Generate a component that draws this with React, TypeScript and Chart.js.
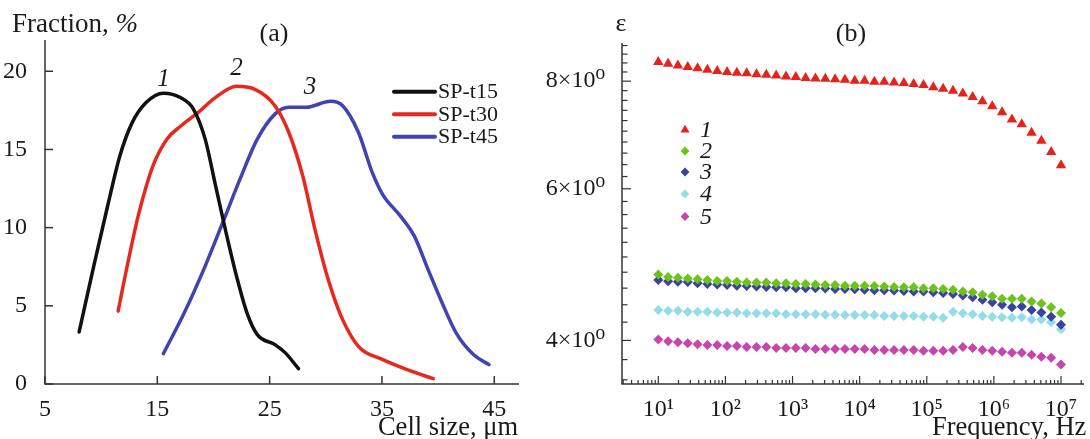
import React, { useEffect, useRef } from 'react';
import { Chart, registerables } from 'chart.js';
Chart.register(...registerables);

const SERIF = "'Liberation Serif', 'DejaVu Serif', serif";
const AXIS = '#333333';
const TEXT = '#1a1a1a';

// ---------- (a) cell size distribution ----------
const seriesNamesA = ['SP-t15', 'SP-t30', 'SP-t45'];
const curveNumbersA = ['1', '2', '3'];
const colorsA = ['#111111', '#e6281e', '#4242b0'];

const sizeT15 = [8.04, 9.34, 10.58, 11.67, 12.75, 14.0, 15.54, 17.1, 18.2, 19.26, 20.19, 21.12, 22.05, 22.98, 23.9, 25.47, 26.4, 27.57];
const fracT15 = [3.33, 7.54, 11.4, 14.6, 16.7, 18.0, 18.6, 18.3, 17.6, 15.66, 12.67, 9.68, 6.9, 4.55, 3.16, 2.52, 1.99, 0.98];

const sizeT30 = [11.51, 12.44, 13.37, 14.61, 15.85, 17.09, 18.64, 20.19, 22.05, 23.6, 25.47, 26.7, 27.95, 29.03, 30.12, 31.36, 32.9, 35.08, 37.25, 39.57];
const fracT30 = [4.66, 7.97, 10.96, 13.95, 15.66, 16.5, 17.37, 18.33, 19.04, 18.87, 17.8, 16.1, 13.3, 9.9, 6.9, 4.34, 2.41, 1.56, 0.92, 0.34];

const sizeT45 = [15.54, 17.4, 19.26, 20.81, 22.36, 23.9, 25.47, 26.7, 28.26, 30.43, 31.5, 32.9, 34.15, 35.08, 36.63, 37.87, 39.1, 40.35, 41.6, 43.14, 44.53];
const fracT45 = [1.94, 4.55, 7.54, 10.3, 13.1, 15.66, 17.26, 17.7, 17.7, 18.08, 17.8, 16.1, 13.5, 12.1, 10.75, 9.47, 7.33, 5.2, 3.27, 1.88, 1.24];

// positions of the italic curve numbers (data coordinates)
const curveLabelX = [15.55, 22.05, 28.6];
const curveLabelY = [19.46, 20.2, 18.98];

const cellTicks = [5, 15, 25, 35, 45];
const fracTicks = [0, 5, 10, 15, 20];

// ---------- (b) permittivity vs frequency ----------
const seriesNamesB = ['1', '2', '3', '4', '5'];
const colorsB = ['#e5221b', '#6cc41a', '#3b40a2', '#95dde6', '#c646ac'];
const stylesB = ['triangle', 'rectRot', 'rectRot', 'rectRot', 'rectRot'];

const freqHz = [10, 14.01, 19.62, 27.48, 38.49, 53.91, 75.51, 105.8, 148.2, 207.6, 290.7, 407.2, 570.4, 799.0, 1119, 1567, 2195, 3075, 4307, 6033, 8450, 11836, 16579, 23222, 32527, 45561, 63818, 89390, 125210, 175380, 245660, 344100, 481990, 675130, 945660, 1324600, 1855400, 2598900, 3640300, 5099000, 7142300, 10000000];

const eps1 = [8.42, 8.38, 8.34, 8.31, 8.28, 8.25, 8.22, 8.20, 8.18, 8.17, 8.15, 8.14, 8.12, 8.10, 8.09, 8.07, 8.06, 8.05, 8.04, 8.03, 8.01, 8.01, 7.99, 7.99, 7.97, 7.96, 7.94, 7.92, 7.87, 7.84, 7.80, 7.74, 7.67, 7.58, 7.48, 7.36, 7.22, 7.13, 6.97, 6.82, 6.62, 6.39];
const eps2 = [4.77, 4.74, 4.73, 4.72, 4.71, 4.70, 4.69, 4.69, 4.68, 4.67, 4.67, 4.67, 4.66, 4.66, 4.65, 4.65, 4.645, 4.64, 4.64, 4.63, 4.63, 4.63, 4.625, 4.62, 4.615, 4.61, 4.61, 4.60, 4.60, 4.59, 4.58, 4.56, 4.55, 4.52, 4.50, 4.47, 4.47, 4.47, 4.44, 4.415, 4.37, 4.305];
const eps3 = [4.70, 4.685, 4.68, 4.675, 4.66, 4.65, 4.645, 4.64, 4.63, 4.625, 4.62, 4.615, 4.61, 4.61, 4.60, 4.60, 4.60, 4.595, 4.59, 4.59, 4.585, 4.58, 4.575, 4.575, 4.57, 4.565, 4.56, 4.56, 4.55, 4.54, 4.53, 4.51, 4.49, 4.46, 4.43, 4.40, 4.37, 4.38, 4.34, 4.31, 4.26, 4.17];
const eps4 = [4.34, 4.33, 4.33, 4.32, 4.32, 4.32, 4.31, 4.31, 4.31, 4.30, 4.30, 4.30, 4.30, 4.29, 4.29, 4.29, 4.29, 4.285, 4.285, 4.28, 4.28, 4.28, 4.28, 4.27, 4.27, 4.27, 4.27, 4.26, 4.26, 4.25, 4.32, 4.30, 4.29, 4.27, 4.26, 4.255, 4.25, 4.255, 4.23, 4.23, 4.20, 4.12];
const eps5 = [4.01, 3.99, 3.98, 3.97, 3.96, 3.95, 3.95, 3.94, 3.94, 3.93, 3.93, 3.93, 3.92, 3.92, 3.92, 3.92, 3.91, 3.91, 3.91, 3.91, 3.91, 3.91, 3.90, 3.90, 3.90, 3.90, 3.90, 3.89, 3.89, 3.89, 3.90, 3.93, 3.92, 3.90, 3.89, 3.88, 3.87, 3.87, 3.85, 3.83, 3.82, 3.75];

const freqMajorTicks = [10, 100, 1000, 10000, 100000, 1000000, 10000000];
const freqMin = 2.88;
const freqMax = 2.2e7;
const epsTicks = [3.6, 3.8, 4.0, 4.2, 4.4, 4.6, 4.8, 5.0, 5.2, 5.4, 5.6, 5.8, 6.0, 6.2, 6.4, 6.6, 6.8, 7.0, 7.2, 7.4, 7.6, 7.8, 8.0, 8.2, 8.4, 8.6, 8.8];
const epsLabelled = [4, 6, 8];
const epsMin = 3.56;
const epsMax = 8.86;

const SUP = '⁰¹²³⁴⁵⁶⁷⁸⁹';
const supNum = (n: number) => String(n).split('').map((d) => SUP[+d]).join('');

function freqTickValues(): number[] {
  const out: number[] = [];
  for (let e = 0; e <= 7; e++) {
    for (let k = 1; k <= 9; k++) {
      const v = k * Math.pow(10, e);
      if (v >= freqMin && v <= freqMax) out.push(v);
    }
  }
  return out;
}

function drawMarker(ctx: CanvasRenderingContext2D, style: string, x: number, y: number, r: number, color: string) {
  ctx.fillStyle = color;
  ctx.beginPath();
  if (style === 'triangle') {
    ctx.moveTo(x, y - r);
    ctx.lineTo(x + 0.866 * r, y + 0.5 * r);
    ctx.lineTo(x - 0.866 * r, y + 0.5 * r);
  } else {
    ctx.moveTo(x, y - r);
    ctx.lineTo(x + r, y);
    ctx.lineTo(x, y + r);
    ctx.lineTo(x - r, y);
  }
  ctx.closePath();
  ctx.fill();
}

function line(ctx: CanvasRenderingContext2D, x1: number, y1: number, x2: number, y2: number) {
  ctx.beginPath();
  ctx.moveTo(x1, y1);
  ctx.lineTo(x2, y2);
  ctx.stroke();
}

const decorA = {
  id: 'decorA',
  afterDraw(chart: any) {
    const { ctx, chartArea: a, scales } = chart;
    const x = scales.x, y = scales.y;
    ctx.save();
    ctx.strokeStyle = AXIS;
    ctx.lineWidth = 1.5;
    line(ctx, a.left, a.top, a.left, a.bottom);
    line(ctx, a.left - 0.75, a.bottom, a.right, a.bottom);
    for (const v of cellTicks) {
      const px = x.getPixelForValue(v);
      line(ctx, px, a.bottom, px, a.bottom - 8);
    }
    for (const v of fracTicks) {
      const py = y.getPixelForValue(v);
      line(ctx, a.left, py, a.left + 8, py);
    }
    ctx.fillStyle = TEXT;
    ctx.textBaseline = 'alphabetic';
    // y-axis title
    ctx.textAlign = 'left';
    ctx.font = `27px ${SERIF}`;
    const t1 = 'Fraction, ';
    ctx.fillText(t1, 12, 32);
    const w1 = ctx.measureText(t1).width;
    ctx.font = `italic 27px ${SERIF}`;
    ctx.fillText('%', 12 + w1, 32);
    // panel tag
    ctx.font = `26px ${SERIF}`;
    ctx.textAlign = 'center';
    ctx.fillText('(a)', 274, 41);
    // x-axis title
    ctx.textAlign = 'right';
    ctx.font = `26.5px ${SERIF}`;
    ctx.fillText('Cell size, μm', 518, 435);
    // curve numbers
    ctx.textAlign = 'center';
    ctx.textBaseline = 'middle';
    ctx.font = `italic 25px ${SERIF}`;
    curveNumbersA.forEach((n, i) => {
      ctx.fillText(n, x.getPixelForValue(curveLabelX[i]), y.getPixelForValue(curveLabelY[i]));
    });
    // legend
    const rows = [91.7, 114.3, 136.7];
    ctx.font = `22px ${SERIF}`;
    ctx.textAlign = 'left';
    chart.data.datasets.forEach((ds: any, i: number) => {
      ctx.strokeStyle = ds.borderColor;
      ctx.lineWidth = 4;
      ctx.lineCap = 'round';
      line(ctx, 394, rows[i], 435, rows[i]);
      ctx.fillStyle = TEXT;
      ctx.fillText(ds.label, 438, rows[i] + 1);
    });
    ctx.restore();
  },
};

const decorB = {
  id: 'decorB',
  afterDraw(chart: any) {
    const { ctx, chartArea: a, scales } = chart;
    const x = scales.x, y = scales.y;
    ctx.save();
    ctx.strokeStyle = AXIS;
    ctx.lineWidth = 1.5;
    line(ctx, a.left, a.top, a.left, a.bottom);
    line(ctx, a.left - 0.75, a.bottom, a.right, a.bottom);
    ctx.lineWidth = 1.2;
    for (const v of freqTickValues()) {
      const px = x.getPixelForValue(v);
      const major = freqMajorTicks.includes(v);
      line(ctx, px, a.bottom, px, a.bottom - (major ? 8 : 4));
    }
    for (const v of epsTicks) {
      const py = y.getPixelForValue(v);
      const major = epsLabelled.some((m) => Math.abs(m - v) < 1e-9);
      line(ctx, a.left, py, a.left + (major ? 9 : 5.5), py);
    }
    ctx.fillStyle = TEXT;
    ctx.textBaseline = 'alphabetic';
    ctx.textAlign = 'center';
    ctx.font = `26px ${SERIF}`;
    ctx.fillText('ε', 621 - 545, 31);
    ctx.fillText('(b)', 851 - 545, 41);
    ctx.textAlign = 'left';
    ctx.font = `26.5px ${SERIF}`;
    ctx.fillText('Frequency, Hz', 932 - 545, 435);
    // legend
    const rows = [130, 151, 172, 194, 216.5];
    ctx.font = `italic 24px ${SERIF}`;
    ctx.textBaseline = 'middle';
    chart.data.datasets.forEach((ds: any, i: number) => {
      drawMarker(ctx, ds.pointStyle, 685 - 545, rows[i], ds.pointStyle === 'triangle' ? 5.2 : 4.4, ds.backgroundColor);
      ctx.fillStyle = TEXT;
      ctx.fillText(ds.label, 700 - 545, rows[i] + 1);
    });
    ctx.restore();
  },
};

const tickFont = { family: SERIF, size: 24 };

export default function App() {
  const leftRef = useRef<HTMLCanvasElement>(null);
  const rightRef = useRef<HTMLCanvasElement>(null);

  useEffect(() => {
    let chartA: any = null;
    let chartB: any = null;
    let cancelled = false;
    const create = () => {
      if (cancelled) return;
      const sizes = [sizeT15, sizeT30, sizeT45];
      const fracs = [fracT15, fracT30, fracT45];
      chartA = new Chart(leftRef.current as HTMLCanvasElement, {
        type: 'line',
        data: {
          datasets: seriesNamesA.map((name, i) => ({
            label: name,
            data: sizes[i].map((xv, j) => ({ x: xv, y: fracs[i][j] })),
            borderColor: colorsA[i],
            backgroundColor: colorsA[i],
            borderWidth: 3.5,
            pointRadius: 0,
            fill: false,
            tension: 0.4,
            cubicInterpolationMode: 'monotone',
            borderCapStyle: 'round',
            borderJoinStyle: 'round',
          })),
        },
        options: {
          animation: false,
          responsive: false,
          layout: { padding: { top: 40, right: 26, left: 0, bottom: 0 } },
          plugins: { legend: { display: false }, tooltip: { enabled: false } },
          scales: {
            x: {
              type: 'linear', min: 5, max: 47.2,
              grid: { display: false }, border: { display: false },
              afterBuildTicks: (s: any) => { s.ticks = cellTicks.map((v) => ({ value: v })); },
              afterFit: (s: any) => { s.height = 55; },
              ticks: { font: tickFont, color: TEXT, padding: 3, maxRotation: 0, autoSkip: false },
            },
            y: {
              type: 'linear', min: 0, max: 22,
              grid: { display: false }, border: { display: false },
              afterBuildTicks: (s: any) => { s.ticks = fracTicks.map((v) => ({ value: v })); },
              afterFit: (s: any) => { s.width = 45; },
              ticks: { font: tickFont, color: TEXT, padding: 10, autoSkip: false },
            },
          },
        } as any,
        plugins: [decorA],
      } as any);

      const epsSeries = [eps1, eps2, eps3, eps4, eps5];
      chartB = new Chart(rightRef.current as HTMLCanvasElement, {
        type: 'scatter',
        data: {
          datasets: seriesNamesB.map((name, i) => ({
            label: name,
            data: freqHz.map((f, j) => ({ x: f, y: epsSeries[i][j] })),
            pointStyle: stylesB[i],
            pointRadius: stylesB[i] === 'triangle' ? 6 : 5,
            backgroundColor: colorsB[i],
            borderColor: colorsB[i],
            borderWidth: 0,
            showLine: false,
          })),
        },
        options: {
          animation: false,
          responsive: false,
          layout: { padding: { top: 43, right: 0, left: 0, bottom: 0 } },
          plugins: { legend: { display: false }, tooltip: { enabled: false } },
          scales: {
            x: {
              type: 'logarithmic', min: freqMin, max: freqMax,
              grid: { display: false }, border: { display: false },
              afterBuildTicks: (s: any) => { s.ticks = freqTickValues().map((v) => ({ value: v })); },
              afterFit: (s: any) => { s.height = 55; },
              ticks: {
                font: tickFont, color: TEXT, padding: 3, maxRotation: 0, autoSkip: false,
                callback: (v: any) => {
                  const val = Number(v);
                  const idx = freqMajorTicks.findIndex((m) => Math.abs(m - val) / m < 1e-9);
                  return idx >= 0 ? '10' + supNum(idx + 1) : '';
                },
              },
            },
            y: {
              type: 'logarithmic', min: epsMin, max: epsMax,
              grid: { display: false }, border: { display: false },
              afterBuildTicks: (s: any) => { s.ticks = epsTicks.map((v) => ({ value: v })); },
              afterFit: (s: any) => { s.width = 77; },
              ticks: {
                font: tickFont, color: TEXT, padding: 9, autoSkip: false,
                callback: (v: any) => {
                  const val = Number(v);
                  const m = epsLabelled.find((e) => Math.abs(e - val) < 1e-9);
                  return m !== undefined ? `${m}×10⁰` : '';
                },
              },
            },
          },
        } as any,
        plugins: [decorB],
      } as any);
    };

    const fonts: any = (document as any).fonts;
    if (fonts && fonts.load) {
      Promise.all([
        fonts.load("24px 'Liberation Serif'"),
        fonts.load("italic 24px 'Liberation Serif'"),
      ]).catch(() => null).then(create);
    } else {
      create();
    }

    return () => {
      cancelled = true;
      if (chartA) chartA.destroy();
      if (chartB) chartB.destroy();
    };
  }, []);

  return (
    <div style={{ position: 'fixed', left: 0, top: 0, width: 1090, height: 439, background: '#ffffff', overflow: 'hidden' }}>
      <canvas ref={leftRef} width={545} height={439} style={{ position: 'absolute', left: 0, top: 0 }} />
      <canvas ref={rightRef} width={545} height={439} style={{ position: 'absolute', left: 545, top: 0 }} />
    </div>
  );
}
